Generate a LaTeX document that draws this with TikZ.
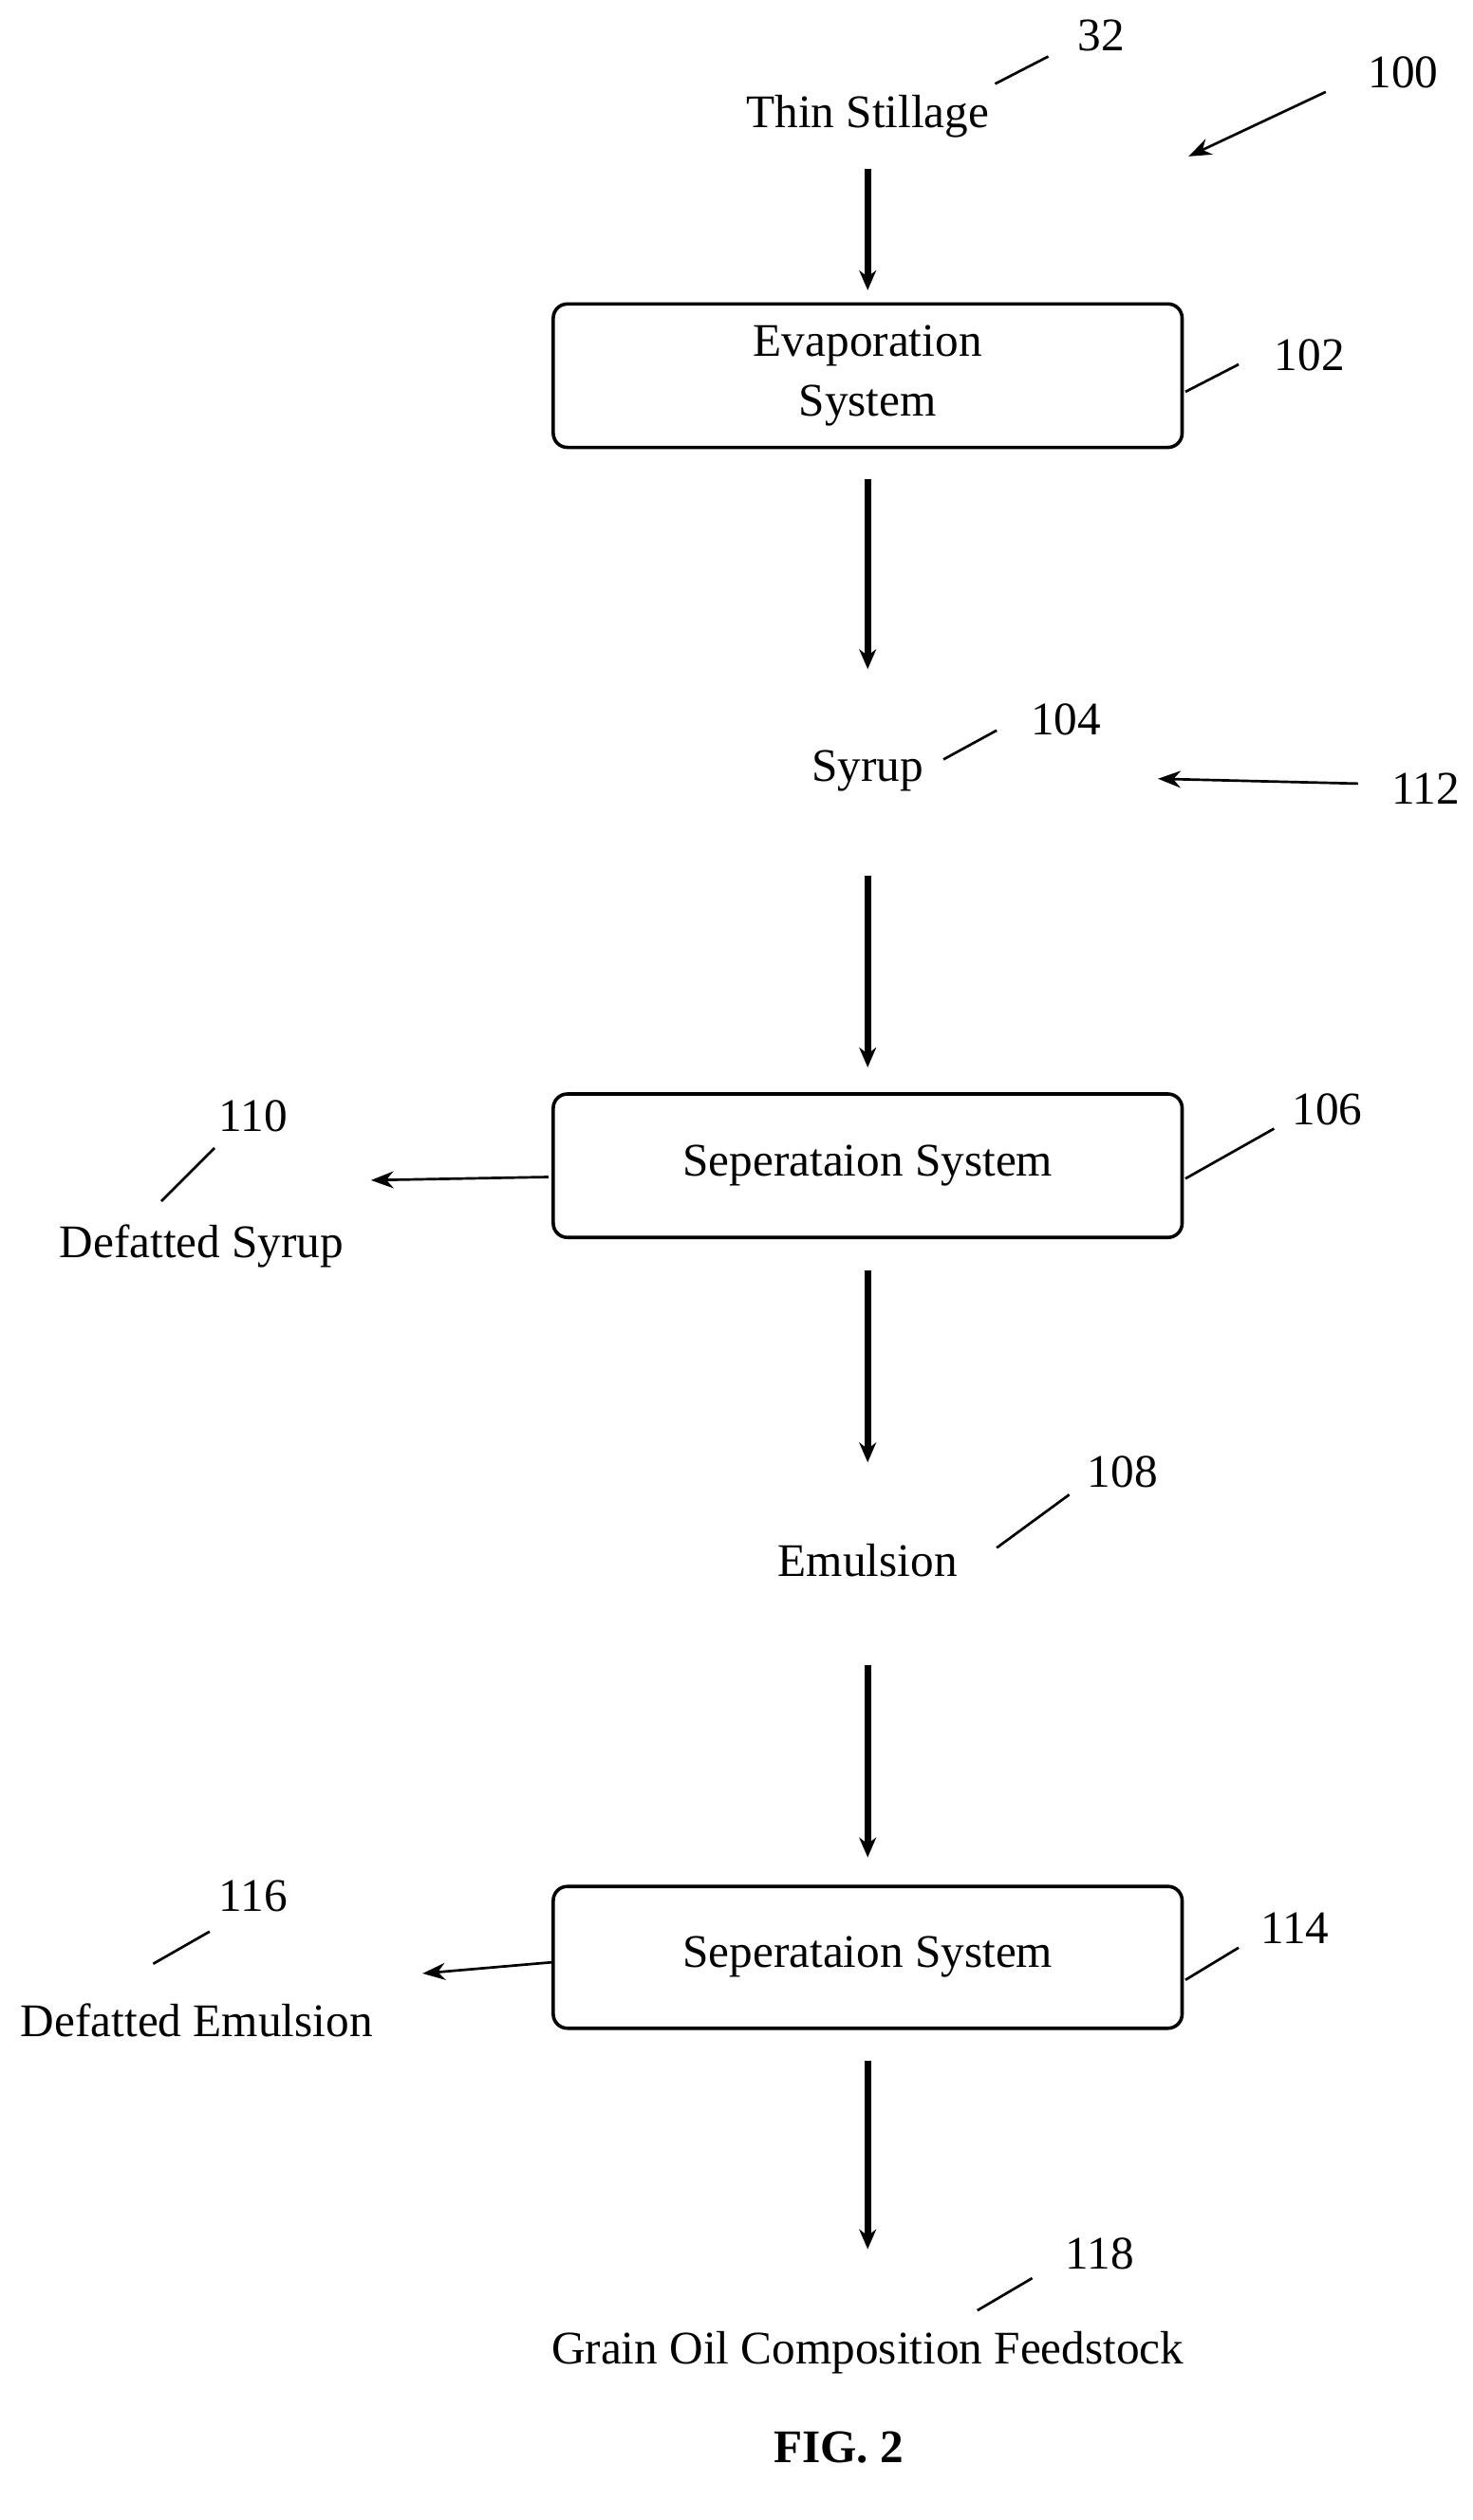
\documentclass[tikz,border=0pt]{standalone}
\usepackage{fontspec}
\setmainfont{Liberation Serif}
\usetikzlibrary{arrows.meta,positioning}
\begin{document}
\begin{tikzpicture}[x=0.02cm,y=-0.02cm,
boxnode/.style={rectangle, rounded corners=5pt, draw, line width=1.2pt, minimum width=7.8cm, minimum height=1.78cm, align=center},
textnode/.style={inner sep=0pt, font=\fontsize{16.5}{21}\selectfont},
flow/.style={line width=2.2pt, -{Stealth[length=7pt,width=6pt]}},
side/.style={line width=0.9pt, -{Stealth[length=8pt,width=6pt]}},
lead/.style={line width=0.9pt}]
\useasboundingbox (0,0) rectangle (913,1563);
% Nodes
\node[textnode] (thin) at (538,72) {Thin Stillage};
\node[textnode] (n32) at (683,22) {32};
\node[textnode] (n100) at (870,45) {100};
\node[boxnode, textnode, minimum width=7.8cm, minimum height=1.78cm] (evap) at (538,233) {Evaporation\\System};
\node[textnode] (n102) at (812,220) {102};
\node[textnode] (syrup) at (538,478) {Syrup};
\node[textnode] (n104) at (661,446) {104};
\node[textnode] (n112) at (884,489) {112};
\node[boxnode, textnode, minimum width=7.8cm, minimum height=1.78cm] (sep1) at (538,723) {Seperataion System};
\node[textnode] (n106) at (823,688) {106};
\node[textnode] (dsyrup) at (125,773) {Defatted Syrup};
\node[textnode] (n110) at (157,692) {110};
\node[textnode] (emul) at (538,968) {Emulsion};
\node[textnode] (n108) at (696,913) {108};
\node[boxnode, textnode, minimum width=7.8cm, minimum height=1.76cm] (sep2) at (538,1214) {Seperataion System};
\node[textnode] (n114) at (803,1196) {114};
\node[textnode] (demul) at (122,1253) {Defatted Emulsion};
\node[textnode] (n116) at (157,1176) {116};
\node[textnode] (grain) at (538,1459) {Grain Oil Composition Feedstock};
\node[textnode] (n118) at (682,1398) {118};
\node[textnode, font=\fontsize{16.5}{21}\selectfont\bfseries] (fig) at (520,1518) {FIG. 2};
% Arrow ends
\coordinate (t1) at (538,105); \coordinate (h1) at (538,180);
\coordinate (t2) at (538,297); \coordinate (h2) at (538,415);
\coordinate (t3) at (538,543); \coordinate (h3) at (538,662);
\coordinate (t4) at (538,788); \coordinate (h4) at (538,907);
\coordinate (t5) at (538,1033); \coordinate (h5) at (538,1152);
\coordinate (t6) at (538,1278); \coordinate (h6) at (538,1395);
\coordinate (t100) at (822,57); \coordinate (a100) at (737,97);
\coordinate (t112) at (842,486); \coordinate (a112) at (718,483);
\coordinate (t110) at (340,730); \coordinate (a110) at (230,732);
\coordinate (t116) at (343,1217); \coordinate (a116) at (262,1224);
% Flow arrows
\draw[flow] (t1) -- (h1);
\draw[flow] (t2) -- (h2);
\draw[flow] (t3) -- (h3);
\draw[flow] (t4) -- (h4);
\draw[flow] (t5) -- (h5);
\draw[flow] (t6) -- (h6);
% Side arrows
\draw[side] (t110) -- (a110);
\draw[side] (t116) -- (a116);
\draw[side] (t100) -- (a100);
\draw[side] (t112) -- (a112);
% Leader lines
\draw[lead] (617,52) -- (650,35);
\draw[lead] (735,243) -- (768,226);
\draw[lead] (585,471) -- (618,453);
\draw[lead] (735,731) -- (790,700);
\draw[lead] (100,745) -- (133,712);
\draw[lead] (618,960) -- (663,927);
\draw[lead] (735,1228) -- (768,1208);
\draw[lead] (95,1218) -- (130,1198);
\draw[lead] (606,1433) -- (640,1413);
\end{tikzpicture}
\end{document}
